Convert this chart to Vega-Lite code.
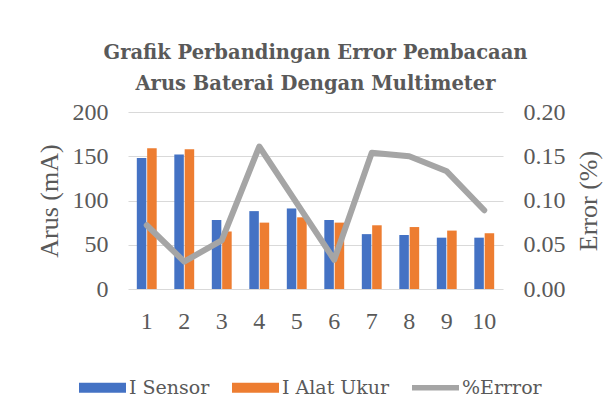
{
  "$schema": "https://vega.github.io/schema/vega-lite/v6.json",
  "autosize": "none",
  "width": 375,
  "height": 177,
  "padding": {"left": 128, "top": 112, "right": 108, "bottom": 116},
  "background": "white",
  "config": {
    "font": "Liberation Serif",
    "view": {"stroke": null},
    "axis": {"labelFont": "Liberation Serif", "titleFont": "Liberation Serif", "labelColor": "#595959", "titleColor": "#595959", "labelFontSize": 24, "titleFontSize": 26, "titleFontWeight": "normal", "ticks": false, "domain": false}
  },
  "title": {
    "text": ["Grafik Perbandingan Error  Pembacaan", "Arus  Baterai Dengan Multimeter"],
    "font": "DejaVu Serif",
    "fontSize": 19.5,
    "fontWeight": "bold",
    "color": "#595959",
    "lineHeight": 31,
    "anchor": "middle",
    "frame": "group",
    "offset": 6
  },
  "datasets": {
    "arus": [
      {"n": 1, "series": "I Sensor", "value": 148},
      {"n": 1, "series": "I Alat Ukur", "value": 159},
      {"n": 2, "series": "I Sensor", "value": 152},
      {"n": 2, "series": "I Alat Ukur", "value": 158},
      {"n": 3, "series": "I Sensor", "value": 78},
      {"n": 3, "series": "I Alat Ukur", "value": 65},
      {"n": 4, "series": "I Sensor", "value": 88},
      {"n": 4, "series": "I Alat Ukur", "value": 75},
      {"n": 5, "series": "I Sensor", "value": 91},
      {"n": 5, "series": "I Alat Ukur", "value": 81},
      {"n": 6, "series": "I Sensor", "value": 78},
      {"n": 6, "series": "I Alat Ukur", "value": 75},
      {"n": 7, "series": "I Sensor", "value": 62},
      {"n": 7, "series": "I Alat Ukur", "value": 72},
      {"n": 8, "series": "I Sensor", "value": 61},
      {"n": 8, "series": "I Alat Ukur", "value": 70},
      {"n": 9, "series": "I Sensor", "value": 58},
      {"n": 9, "series": "I Alat Ukur", "value": 66},
      {"n": 10, "series": "I Sensor", "value": 58},
      {"n": 10, "series": "I Alat Ukur", "value": 63}
    ],
    "error": [
      {"n": 1, "err": 0.072},
      {"n": 2, "err": 0.031},
      {"n": 3, "err": 0.055},
      {"n": 4, "err": 0.161},
      {"n": 5, "err": 0.097},
      {"n": 6, "err": 0.033},
      {"n": 7, "err": 0.154},
      {"n": 8, "err": 0.150},
      {"n": 9, "err": 0.133},
      {"n": 10, "err": 0.089}
    ]
  },
  "encoding": {
    "x": {
      "field": "n", "type": "ordinal",
      "scale": {"paddingInner": 0.47, "paddingOuter": 0.235},
      "axis": {"title": null, "labelAngle": 0, "labelPadding": 20, "grid": false}
    }
  },
  "layer": [
    {
      "data": {"name": "arus"},
      "mark": {"type": "bar"},
      "encoding": {
        "xOffset": {"field": "series", "type": "nominal", "scale": {"domain": ["I Sensor", "I Alat Ukur"], "paddingInner": 0.08}},
        "y": {
          "field": "value", "type": "quantitative",
          "scale": {"domain": [0, 200], "nice": false},
          "axis": {"title": "Arus (mA)", "values": [0, 50, 100, 150, 200], "grid": true, "gridColor": "#D9D9D9", "gridWidth": 1.2, "labelPadding": 20, "titlePadding": 10}
        },
        "color": {
          "field": "series", "type": "nominal",
          "scale": {"domain": ["I Sensor", "I Alat Ukur", "%Errror"], "range": ["#4472C4", "#ED7D31", "#A5A5A5"]},
          "legend": {
            "title": null,
            "orient": "none",
            "direction": "horizontal",
            "legendX": -49,
            "legendY": 252,
            "labelFont": "DejaVu Serif",
            "labelFontSize": 19,
            "labelColor": "#595959",
            "labelOffset": 3,
            "columnPadding": 22,
            "symbolType": "M-1,-0.21H1V0.21H-1Z",
            "symbolSize": 2209,
            "symbolStrokeWidth": 0,
            "symbolOpacity": 1,
            "encode": {
              "symbols": {
                "update": {
                  "shape": {"signal": "datum.value === '%Errror' ? 'M-1,-0.12H1V0.12H-1Z' : 'M-1,-0.21H1V0.21H-1Z'"}
                }
              }
            }
          }
        }
      }
    },
    {
      "data": {"name": "error"},
      "mark": {"type": "line", "color": "#A5A5A5", "strokeWidth": 6, "strokeCap": "round", "strokeJoin": "round"},
      "encoding": {
        "x": {"field": "n", "type": "ordinal", "bandPosition": 0.5},
        "y": {
          "field": "err", "type": "quantitative",
          "scale": {"domain": [0, 0.2], "nice": false},
          "axis": {"title": "Error (%)", "orient": "right", "titleAngle": 270, "values": [0, 0.05, 0.1, 0.15, 0.2], "format": ".2f", "grid": false, "labelPadding": 20, "titlePadding": 36}
        }
      }
    }
  ],
  "resolve": {"scale": {"y": "independent"}}
}
